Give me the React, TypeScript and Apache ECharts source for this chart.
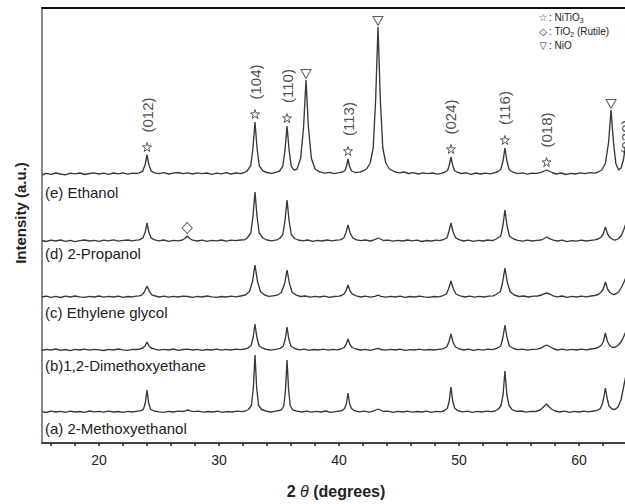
import React, { useEffect, useRef } from 'react';
import * as echarts from 'echarts';

// ---- axis ----
const X_MIN = 15.25;
const X_MAX = 65;
const Y_MAX = 435;
const xLabelValues = [20, 30, 40, 50, 60];
const xTickValues = [16, 18, 20, 22, 24, 26, 28, 30, 32, 34, 36, 38, 40, 42, 44, 46, 48, 50, 52, 54, 56, 58, 60, 62, 64];

// ---- samples (bottom to top) ----
const sampleNames = ['(a) 2-Methoxyethanol', '(b)1,2-Dimethoxyethane', '(c) Ethylene glycol', '(d) 2-Propanol', '(e) Ethanol'];
const sampleOffsets = [31, 93, 146, 202, 269];

const methoxyethanol: [number, number][] = [
  [15.25,0.3],[15.6,-0.5],[16.0,0.8],[16.4,0],[16.8,0.6],[17.2,-0.4],[17.6,0.9],[18.0,0],[18.4,0.5],[18.8,-0.3],[19.2,1],[19.6,0.2],[20.0,0.7],[20.4,-0.2],[20.8,0.8],[21.2,0],[21.6,0.5],[22.0,-0.4],[22.4,0.6],[22.8,0],[23.2,0.8],
  [23.45,1.2],[23.7,2.6],[23.86,9],[24.0,22],[24.14,9],[24.3,2.6],[24.6,1],
  [25.0,0.2],[25.4,-0.4],[25.8,0.6],[26.2,0],[26.6,0.8],[27.0,0.5],[27.2,1.2],[27.4,2],[27.6,1.2],[27.9,0.3],[28.3,0.8],[28.7,-0.2],[29.1,0.5],[29.5,0],[29.9,0.9],[30.3,-0.3],[30.7,0.5],[31.1,0],[31.5,0.8],[31.9,0.4],[32.2,1],
  [32.45,2.5],[32.7,6.5],[32.86,24],[33.0,57],[33.14,24],[33.3,6.5],[33.55,2.5],
  [33.9,1],[34.3,0],[34.7,0.8],[35.0,1.5],
  [35.2,2.2],[35.4,6],[35.54,22],[35.67,52],[35.8,22],[35.94,6],[36.15,2.2],
  [36.5,0.8],[36.9,0],[37.3,0.9],[37.7,-0.2],[38.1,0.6],[38.5,0],[38.9,1],[39.3,-0.3],[39.7,0.4],[40.05,1],
  [40.25,1.5],[40.47,3.5],[40.61,8],[40.75,19],[40.89,8],[41.04,3.5],[41.3,1.3],
  [41.7,0.2],[42.1,0.8],[42.5,-0.2],[42.85,0.8],[43.05,2],[43.25,3],[43.45,2],[43.7,0.5],
  [44.1,0.8],[44.5,-0.3],[44.9,0.6],[45.3,0],[45.7,0.9],[46.1,-0.2],[46.5,0.5],[46.9,0],[47.3,0.8],[47.7,-0.4],[48.1,0.6],[48.5,0.2],
  [48.8,1.5],[49.03,3.8],[49.18,10.5],[49.33,25],[49.48,10.5],[49.65,3.8],[49.9,1.4],
  [50.3,0.2],[50.7,0.9],[51.1,-0.3],[51.5,0.6],[51.9,0],[52.3,0.8],[52.7,0.3],[53.0,1],
  [53.25,2.5],[53.5,6.5],[53.67,17],[53.83,41],[53.99,17],[54.17,6.5],[54.45,2.2],
  [54.8,0.6],[55.2,1],[55.6,-0.2],[56.0,0.7],[56.4,0.5],
  [56.75,2],[57.0,4.5],[57.2,7],[57.3,8],[57.45,6],[57.7,3],[58.0,1],
  [58.4,0],[58.8,0.8],[59.2,-0.3],[59.6,0.6],[60.0,0],[60.4,0.9],[60.8,0.2],[61.2,1],[61.5,1.6],
  [61.75,3],[61.93,7.5],[62.06,14],[62.2,24],[62.34,14],[62.5,6],[62.75,3],[63.0,2.5],
  [63.25,5],[63.5,12],[63.7,24],[63.9,36],[64.1,42],[64.35,22],[64.65,6],[65.0,2],
];

const dimethoxyethane: [number, number][] = [
  [15.25,-0.5],[15.6,0.6],[16.0,0],[16.4,1],[16.8,-0.3],[17.2,0.5],[17.6,-0.6],[18.0,0.6],[18.4,0],[18.8,0.9],[19.2,-0.2],[19.6,0.7],[20.0,0.1],[20.4,-0.5],[20.8,0.6],[21.2,0],[21.6,1],[22.0,0.2],[22.4,-0.3],[22.8,0.6],[23.15,0.5],
  [23.4,1],[23.65,2],[23.85,4.2],[24.0,8],[24.15,4.2],[24.35,2],[24.65,0.8],
  [25.0,-0.2],[25.4,0.6],[25.8,0],[26.2,1],[26.6,-0.3],[27.0,0.5],[27.4,0.9],[27.8,0],[28.2,0.6],[28.6,-0.4],[29.0,0.5],[29.4,0],[29.8,0.9],[30.2,-0.2],[30.6,0.6],[31.0,0],[31.4,0.8],[31.8,0.3],[32.15,1],
  [32.4,1.8],[32.68,4.5],[32.85,13],[33.0,26],[33.15,13],[33.33,4.5],[33.62,1.8],
  [34.0,0.5],[34.4,-0.2],[34.8,0.8],
  [35.1,1.6],[35.36,4],[35.53,11.5],[35.67,23],[35.81,11.5],[35.99,4],[36.3,1.5],
  [36.7,0.2],[37.1,0.8],[37.5,-0.3],[37.9,0.5],[38.3,0],[38.7,0.8],[39.1,-0.2],[39.5,0.6],[39.9,0.2],
  [40.15,1],[40.42,2.5],[40.59,5.5],[40.75,11],[40.91,5.5],[41.1,2.5],[41.4,1],
  [41.8,0],[42.2,0.6],[42.6,-0.3],[43.0,0.8],[43.25,1.6],[43.5,0.5],[43.9,-0.2],[44.3,0.7],[44.7,0],[45.1,0.8],[45.5,-0.4],[45.9,0.4],[46.3,0],[46.7,0.9],[47.1,-0.2],[47.5,0.5],[47.9,0],[48.3,0.7],
  [48.65,1.2],[48.98,3],[49.16,8],[49.33,16],[49.5,8],[49.7,3],[50.05,1],
  [50.4,0],[50.8,0.8],[51.2,-0.3],[51.6,0.6],[52.0,-0.1],[52.4,0.8],[52.8,0.4],
  [53.15,1.6],[53.48,4],[53.66,12.5],[53.83,25],[54.0,12.5],[54.2,4],[54.55,1.5],
  [54.9,0.3],[55.3,0.9],[55.7,-0.2],[56.1,0.7],[56.5,0.8],
  [56.85,2],[57.1,3.8],[57.3,5],[57.55,3.5],[57.85,1.5],
  [58.2,0],[58.6,0.8],[59.0,-0.2],[59.4,0.6],[59.8,0],[60.2,0.9],[60.6,0.1],[61.0,1],[61.3,1.5],
  [61.6,2.5],[61.87,5],[62.03,8.5],[62.2,17],[62.37,8.5],[62.55,4.5],[62.8,2.5],[63.05,3],
  [63.3,5],[63.55,9],[63.75,14],[63.95,20],[64.15,23],[64.4,13],[64.7,4],[65.0,2],
];

const ethyleneGlycol: [number, number][] = [
  [15.25,0],[15.6,0.9],[16.0,-0.3],[16.4,0.6],[16.8,-0.5],[17.2,0.8],[17.6,0],[18.0,1],[18.4,0.2],[18.8,-0.4],[19.2,0.7],[19.6,0],[20.0,1],[20.4,-0.2],[20.8,0.6],[21.2,0],[21.6,0.9],[22.0,-0.3],[22.4,0.5],[22.8,0.1],[23.1,0.9],
  [23.35,1.2],[23.6,2.2],[23.8,5.5],[24.0,11],[24.2,5.5],[24.4,2.2],[24.7,1],
  [25.0,0],[25.4,0.8],[25.8,-0.2],[26.2,0.6],[26.6,0],[27.0,0.9],[27.4,0.5],[27.8,-0.3],[28.2,0.7],[28.6,0],[29.0,1],[29.4,0.1],[29.8,-0.4],[30.2,0.5],[30.6,0],[31.0,0.9],[31.4,0.2],[31.8,1],
  [32.2,2],[32.55,5.5],[32.8,16],[33.0,32],[33.2,16],[33.45,5.5],[33.8,2],
  [34.15,0.6],[34.5,1.2],[34.85,1.8],
  [35.2,4.5],[35.47,13.5],[35.67,27],[35.87,13.5],[36.1,4.5],[36.45,1.8],
  [36.8,0.5],[37.2,1],[37.6,-0.2],[38.0,0.6],[38.4,0],[38.8,0.8],[39.2,-0.3],[39.6,0.5],[40.0,0.9],
  [40.2,1.5],[40.42,2.8],[40.58,6],[40.75,12],[40.92,6],[41.12,2.8],[41.45,1.2],
  [41.8,0],[42.2,0.8],[42.6,-0.2],[43.0,0.6],[43.25,1.8],[43.5,0.6],[43.9,-0.2],[44.3,0.6],[44.7,0],[45.1,0.8],[45.5,-0.3],[45.9,0.5],[46.3,0],[46.7,0.9],[47.1,0.1],[47.5,-0.4],[47.9,0.5],[48.3,0.2],
  [48.6,1.2],[48.95,3],[49.13,8],[49.33,16],[49.53,8],[49.75,3],[50.1,1.2],
  [50.5,0],[50.9,0.8],[51.3,-0.2],[51.7,0.6],[52.1,0],[52.5,0.9],[52.85,1.2],
  [53.1,2.5],[53.45,5.5],[53.63,14.5],[53.83,29],[54.03,14.5],[54.25,5.5],[54.6,2],
  [55.0,0.5],[55.4,1],[55.8,0],[56.2,0.8],[56.55,1],
  [56.85,2],[57.1,3.2],[57.3,4],[57.55,3],[57.85,1.2],
  [58.2,0.2],[58.6,1],[59.0,-0.3],[59.4,0.6],[59.8,0],[60.2,0.9],[60.6,0.2],[61.0,1],[61.3,1.5],
  [61.6,2.5],[61.85,5],[62.02,8],[62.2,15],[62.38,8],[62.58,4.5],[62.85,2.5],[63.05,3],
  [63.3,5],[63.55,10],[63.75,15],[63.95,21],[64.15,24],[64.4,14],[64.7,5],[65.0,2],
];

const propanol: [number, number][] = [
  [15.25,0.5],[15.6,-0.5],[16.0,0.8],[16.4,0],[16.8,1],[17.2,-0.3],[17.6,0.6],[18.0,-0.6],[18.4,0.4],[18.8,1],[19.2,0],[19.6,0.7],[20.0,-0.4],[20.4,0.9],[20.8,0.2],[21.2,1.1],[21.6,-0.2],[22.0,0.6],[22.4,1],[22.8,0.2],[23.1,0.8],
  [23.35,1.1],[23.65,2.8],[23.85,9],[24.0,18],[24.15,9],[24.35,2.8],[24.65,1.1],
  [25.0,0.2],[25.4,1],[25.8,-0.3],[26.2,0.7],[26.6,0.2],[26.95,1],
  [27.15,2.5],[27.35,5],[27.55,2.5],[27.8,0.8],
  [28.2,0],[28.6,0.9],[29.0,-0.4],[29.4,0.6],[29.8,0.1],[30.2,1],[30.6,-0.2],[31.0,0.8],[31.4,0.3],[31.8,1],[32.1,1.2],
  [32.35,3],[32.65,8],[32.83,24.5],[33.0,49],[33.17,24.5],[33.35,8],[33.65,3],
  [34.0,1],[34.4,0.2],[34.8,1.2],
  [35.05,2.5],[35.32,6.5],[35.5,20.5],[35.67,41],[35.84,20.5],[36.02,6.5],[36.3,2.5],
  [36.6,1],[37.0,0.2],[37.4,1],[37.8,-0.3],[38.2,0.7],[38.6,0],[39.0,1],[39.4,0.2],[39.8,0.9],
  [40.1,1.2],[40.4,3],[40.57,8],[40.75,16],[40.93,8],[41.15,3],[41.45,1.2],
  [41.8,0.3],[42.2,1],[42.6,0],[42.9,1],[43.1,2.2],[43.25,3],[43.45,2],[43.7,0.5],
  [44.1,0.9],[44.5,-0.2],[44.9,0.6],[45.3,0],[45.7,1],[46.1,0.2],[46.5,0.8],[46.9,-0.5],[47.3,0.5],[47.7,0],[48.1,0.9],[48.4,0.4],
  [48.7,1.5],[49.0,3.2],[49.15,9],[49.33,18],[49.51,9],[49.72,3.2],[50.05,1.2],
  [50.4,0],[50.8,0.9],[51.2,-0.3],[51.6,0.6],[52.0,0],[52.4,1],[52.8,0.3],
  [53.1,2],[53.48,5],[53.66,15.5],[53.83,31],[54.0,15.5],[54.2,5],[54.55,2],
  [54.9,0.6],[55.3,-0.2],[55.7,0.8],[56.1,0],[56.5,0.6],
  [56.85,1],[57.1,2.5],[57.3,4],[57.55,2.3],[57.85,0.8],
  [58.2,0],[58.6,0.8],[59.0,-0.6],[59.4,0.3],[59.8,-0.2],[60.2,0.8],[60.6,0],[61.0,0.7],[61.3,1.2],
  [61.6,2],[61.85,4],[62.02,7],[62.2,14],[62.38,7],[62.58,3.5],[62.85,1.2],[63.05,1],
  [63.3,2.5],[63.55,6],[63.75,12],[63.95,19],[64.15,22],[64.4,13],[64.7,4],[65.0,2],
];

const ethanol: [number, number][] = [
  [15.25,-1],[15.6,0.6],[16.0,-0.4],[16.4,1],[16.8,0],[17.2,-0.8],[17.6,0.8],[18.0,0.1],[18.4,1],[18.8,-0.5],[19.2,0.5],[19.6,1.2],[20.0,0],[20.4,0.8],[20.8,-0.3],[21.2,1],[21.6,0.2],[22.0,1.1],[22.4,-0.2],[22.8,0.9],[23.1,0.5],
  [23.35,1.2],[23.65,2.9],[23.85,9.5],[24.0,19],[24.15,9.5],[24.35,2.9],[24.65,1.2],
  [25.0,0.4],[25.4,1.3],[25.8,0],[26.2,0.8],[26.6,1.5],[27.0,0.3],[27.4,1.2],[27.8,0],[28.2,1.2],[28.6,0.3],[29.0,1],[29.4,-0.4],[29.8,0.8],[30.2,0.2],[30.6,1.3],[31.0,0],[31.4,1],[31.8,0.4],[32.1,1.5],
  [32.35,3.2],[32.65,8.5],[32.83,26],[33.0,52],[33.17,26],[33.35,8.5],[33.65,3.2],
  [34.0,1.5],[34.4,0.6],[34.8,1.8],
  [35.05,3],[35.32,7.8],[35.5,24],[35.67,48],[35.84,24],[36.02,7.8],[36.25,3.8],
  [36.5,5],[36.8,15.5],[37.05,47],[37.25,94],[37.45,47],[37.7,15.5],[38.0,5],
  [38.4,2.2],[38.8,0.8],[39.2,1.6],[39.6,0.4],[40.0,1.3],
  [40.3,2],[40.5,3.5],[40.62,7.5],[40.75,15],[40.88,7.5],[41.05,3],[41.35,1.5],
  [41.7,1.8],[42.0,3],
  [42.3,5],[42.6,11],[42.85,26],[43.05,73],[43.25,147],[43.45,73],[43.65,26],[43.9,11],[44.2,5],
  [44.6,2.5],[45.0,1.2],[45.4,2],[45.8,0.5],[46.2,1.3],[46.6,0],[47.0,1.1],[47.4,0.3],[47.8,1],[48.2,-0.2],[48.6,0.9],
  [48.85,2],[49.05,3.5],[49.18,8.5],[49.33,17],[49.48,8.5],[49.62,3.5],[49.85,1.8],
  [50.2,0.5],[50.6,1.2],[51.0,-0.3],[51.4,1],[51.8,0],[52.2,0.9],[52.6,0.2],[52.9,1.2],
  [53.2,2],[53.48,4.5],[53.67,13],[53.83,26],[53.99,13],[54.18,4.5],[54.5,1.8],
  [54.9,0.4],[55.3,1.2],[55.7,-0.2],[56.1,0.9],[56.5,0.6],
  [56.9,1.8],[57.1,3],[57.3,4],[57.5,3],[57.75,1.5],
  [58.1,0],[58.5,1],[58.9,-0.5],[59.3,0.7],[59.7,0],[60.1,1.2],[60.5,0.4],[60.9,1.3],[61.3,0.8],[61.6,2],
  [61.9,4],[62.2,10.5],[62.47,32],[62.67,64],[62.87,32],[63.07,10.5],[63.3,4],
  [63.5,6],[63.7,14],[63.85,26],[64.05,38],[64.25,34],[64.5,14],[64.8,5],[65.0,3],
];

const samplePatterns = [methoxyethanol, dimethoxyethane, ethyleneGlycol, propanol, ethanol];

// ---- phase annotations (on the ethanol pattern) ----
const nitio3Angles = [24.0, 33.0, 35.67, 40.75, 49.33, 53.83, 57.3];
const nitio3Hkl = ['(012)', '(104)', '(110)', '(113)', '(024)', '(116)', '(018)'];
const nitio3PeakHeights = [19, 52, 48, 15, 17, 26, 4];
const nioAngles = [37.25, 43.25, 62.67];
const nioPeakHeights = [94, 147, 64];
const rutileAngle = 27.35;
const rutilePeakHeight = 5;
const edgeHkl = '(030)';
const edgeHklAngle = 63.96;

const legendItems = [
  { sym: '\u2606', rich: '{n|NiTiO}{s|3}' },
  { sym: '\u25C7', rich: '{n|TiO}{s|2}{n| (Rutile)}' },
  { sym: '\u25BD', rich: '{n|NiO}' },
];

const FONT = '"Liberation Sans", Arial, Helvetica, sans-serif';
const STAR = 'path://M50,2 L61,36 L97,36 L68,57 L79,92 L50,71 L21,92 L32,57 L3,36 L39,36 Z';
const TRI_DOWN = 'path://M2,2 L98,2 L50,88 Z';

// the original figure is cropped on its right side: the chart is drawn wider than the window
const CHART_W = 640;
const GRID_LEFT = 42;
const GRID_RIGHT = CHART_W - 42 - 597;

export default function App() {
  const ref = useRef<HTMLDivElement>(null);
  useEffect(() => {
    if (!ref.current) return;
    const chart = echarts.init(ref.current, null, { renderer: 'svg' });
    const eOff = sampleOffsets[4];
    const dOff = sampleOffsets[3];
    const markGap = 8;
    const labelGap = 32;

    const lineSeries = samplePatterns.map((pat, i) => ({
      type: 'line',
      name: sampleNames[i],
      data: pat.map(([x, y]) => [x, y + sampleOffsets[i]]),
      showSymbol: false,
      symbol: 'none',
      lineStyle: { color: '#383838', width: 1.35 },
      z: 2,
      silent: true,
    }));

    const markerBase = {
      type: 'scatter',
      silent: true,
      z: 4,
      itemStyle: { color: '#ffffff', borderColor: '#333', borderWidth: 1 },
    };

    const option: any = {
      animation: false,
      backgroundColor: '#ffffff',
      grid: { left: GRID_LEFT, right: GRID_RIGHT, top: 8, bottom: 61, containLabel: false, outerBoundsMode: 'none' },
      xAxis: [
        {
          type: 'value', min: X_MIN, max: X_MAX,
          axisLine: { show: true, onZero: false, lineStyle: { color: '#444', width: 2 } },
          axisTick: { show: true, inside: false, length: 3, customValues: xTickValues, lineStyle: { color: '#222', width: 1.5 } },
          axisLabel: { show: true, customValues: xLabelValues, fontSize: 14, color: '#222', fontFamily: FONT, margin: 10 },
          splitLine: { show: false },
        },
        {
          type: 'value', min: X_MIN, max: X_MAX, position: 'top',
          axisLine: { show: true, onZero: false, lineStyle: { color: '#111', width: 2 } },
          axisTick: { show: false }, axisLabel: { show: false }, splitLine: { show: false },
        },
      ],
      yAxis: {
        type: 'value', min: 0, max: Y_MAX,
        axisLine: { show: true, onZero: false, lineStyle: { color: '#8a8a8a', width: 2 } },
        axisTick: { show: false }, axisLabel: { show: false }, splitLine: { show: false },
      },
      series: [
        ...lineSeries,
        {
          ...markerBase,
          symbol: STAR, symbolSize: 9,
          data: nitio3Angles.map((a, i) => [a, eOff + nitio3PeakHeights[i] + markGap]),
        },
        {
          ...markerBase,
          symbol: TRI_DOWN, symbolSize: [10, 9],
          data: nioAngles.map((a, i) => [a, eOff + nioPeakHeights[i] + markGap - 2]),
        },
        {
          ...markerBase,
          symbol: 'diamond', symbolSize: [10, 11],
          data: [[rutileAngle, dOff + rutilePeakHeight + markGap]],
        },
        {
          type: 'scatter', silent: true, z: 5, symbolSize: 1,
          itemStyle: { color: 'rgba(0,0,0,0)' },
          label: {
            show: true, position: 'inside', rotate: 90, formatter: (p: any) => p.name,
            fontSize: 15, color: '#222', fontFamily: FONT,
          },
          data: [
            ...nitio3Angles.map((a, i) => ({
              name: nitio3Hkl[i],
              value: [a, eOff + nitio3PeakHeights[i] + markGap + labelGap],
            })),
            { name: edgeHkl, value: [edgeHklAngle, eOff + 37] },
          ],
        },
      ],
      graphic: [
        ...sampleNames.map((n, i) => ({
          type: 'text',
          x: 45,
          y: [428, 365, 312, 253, 192][i],
          style: { text: n, font: `15px ${FONT}`, fill: '#222', textVerticalAlign: 'middle', verticalAlign: 'middle' },
          z: 10,
        })),
        {
          type: 'text', x: 20, y: 213, rotation: Math.PI / 2,
          style: { text: 'Intensity (a.u.)', font: `bold 15px ${FONT}`, fill: '#222', textAlign: 'center', align: 'center', textVerticalAlign: 'middle', verticalAlign: 'middle' },
        },
        {
          type: 'text', x: 336, y: 491,
          style: {
            text: '{b|2 }{t|\u03B8}{b| (degrees)}',
            textAlign: 'center', align: 'center', textVerticalAlign: 'middle', verticalAlign: 'middle',
            rich: {
              b: { fontFamily: FONT, fontSize: 16, fontWeight: 'bold', fill: '#222', color: '#222' },
              t: { fontFamily: FONT, fontSize: 16, fontStyle: 'italic', fill: '#222', color: '#222' },
            },
          },
        },
        ...legendItems.flatMap((it, i) => [
          {
            type: 'text', x: 543, y: 17 + i * 14,
            style: { text: it.sym, font: '10px "DejaVu Sans", sans-serif', fill: '#333', textAlign: 'center', align: 'center', textVerticalAlign: 'middle', verticalAlign: 'middle' },
          },
          {
            type: 'text', x: 549, y: 17 + i * 14,
            style: {
              text: '{n|: }' + it.rich,
              textVerticalAlign: 'middle', verticalAlign: 'middle',
              rich: {
                n: { fontFamily: FONT, fontSize: 10, lineHeight: 14, fill: '#222', color: '#222', verticalAlign: 'middle' },
                s: { fontFamily: FONT, fontSize: 7, lineHeight: 8, fill: '#222', color: '#222', verticalAlign: 'bottom' },
              },
            },
          },
        ]),
      ],
    };
    chart.setOption(option);
    return () => chart.dispose();
  }, []);
  return (
    <div style={{ position: 'fixed', left: 0, top: 0, width: 625, height: 504, overflow: 'hidden', background: '#fff' }}>
      <div ref={ref} style={{ width: CHART_W, height: 504 }} />
    </div>
  );
}
